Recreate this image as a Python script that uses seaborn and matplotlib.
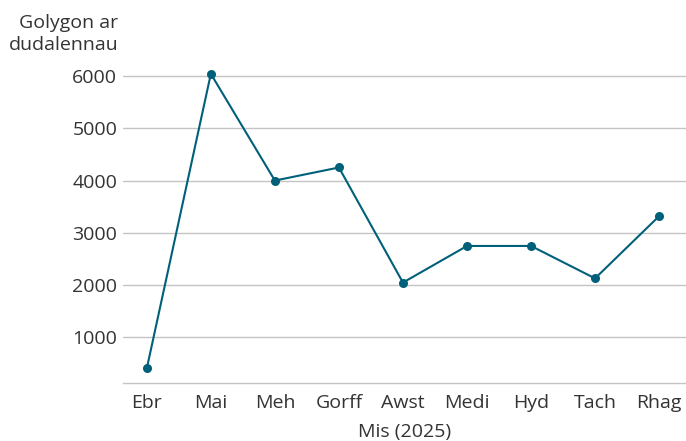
import pandas as pd
import seaborn as sns
from matplotlib import pyplot as plt

# Page views per month (2025)
months = ["Ebr", "Mai", "Meh", "Gorff", "Awst", "Medi", "Hyd", "Tach", "Rhag"]
views = [410, 6040, 4000, 4250, 2050, 2750, 2750, 2130, 3320]
yticks = [1000, 2000, 3000, 4000, 5000, 6000]

line_color = "#00607a"
text_color = "#333333"
grid_color = "#c4c4c4"

sns.set_style("white")
plt.rcParams["font.family"] = ["Open Sans", "DejaVu Sans"]

data = pd.DataFrame({"mis": months, "golygon": views})
data["pos"] = range(len(months))

fig = plt.figure(figsize=(6.86, 4.41), dpi=100)
ax = fig.add_axes([0.179, 0.1315, 0.821, 0.72])

sns.lineplot(data=data, x="pos", y="golygon", ax=ax, color=line_color,
             linewidth=1.5, marker="o", markersize=6.5, markeredgewidth=0)

ax.set_xlim(-0.375, 8.42)
ax.set_ylim(130, 6200)
ax.set_xticks(data["pos"])
ax.set_xticklabels(months)
ax.set_yticks(yticks)
ax.yaxis.grid(True, color=grid_color, linewidth=1)
ax.set_axisbelow(True)
ax.tick_params(axis="both", length=0, labelsize=14, colors=text_color)
ax.tick_params(axis="y", pad=4)
ax.tick_params(axis="x", pad=8)

for side in ["top", "right", "left"]:
    ax.spines[side].set_visible(False)
ax.spines["bottom"].set_color(grid_color)
ax.spines["bottom"].set_linewidth(1)

ax.set_xlabel("Mis (2025)", fontsize=14, color=text_color, labelpad=8)
ax.set_ylabel("")
fig.text(118 / 686, 1 - 14 / 441, "Golygon ar\ndudalennau", ha="right", va="top",
         fontsize=14, color=text_color, linespacing=1.25)

plt.savefig("out.png", dpi=100)
plt.close()
